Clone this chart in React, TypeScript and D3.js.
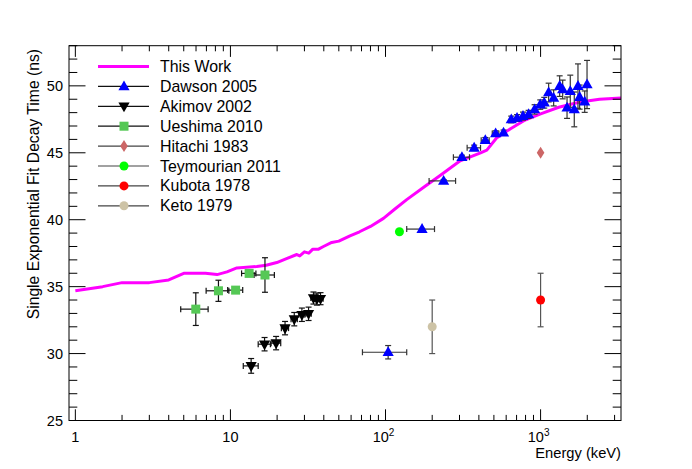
import React from 'react';
import * as d3 from 'd3';

// "This Work" curve: energy (keV), decay time (ns)
const thisWorkE = [1.0, 1.5, 2.0, 3.0, 4.0, 5.0, 6.9, 8.2, 9.5, 11.0, 14.8, 17, 19.9, 23, 26.8, 28, 30, 32, 34, 37, 39.8, 45, 50, 59, 68, 80, 97, 115, 137, 180, 225, 303, 410, 450, 520, 640, 780, 1000, 1310, 1800, 2400, 3300];
const thisWorkT = [34.7, 35.0, 35.3, 35.3, 35.5, 36.0, 36.0, 35.9, 36.1, 36.4, 36.5, 36.6, 36.8, 37.1, 37.4, 37.3, 37.6, 37.5, 37.8, 37.8, 38.0, 38.3, 38.4, 38.8, 39.1, 39.5, 40.1, 40.8, 41.5, 42.5, 43.3, 44.4, 45.0, 45.2, 46.1, 46.8, 47.4, 47.9, 48.4, 48.8, 49.0, 49.1];

// Dawson 2005
const dawsonE = [104, 172, 237, 311, 373, 440, 513, 577, 647, 705, 770, 837, 915, 995, 1056, 1127, 1214, 1327, 1388, 1481, 1554, 1649, 1742, 1785, 1925, 1993];
const dawsonT = [30.1, 39.3, 42.9, 44.67, 45.37, 45.94, 46.44, 46.5, 47.49, 47.6, 47.74, 47.87, 48.24, 48.6, 48.74, 49.5, 49.1, 49.98, 49.73, 48.37, 49.6, 48.24, 49.98, 49.16, 48.82, 50.1];
const dawsonDT = [0.5, 0.05, 0.1, 0.15, 0.2, 0.2, 0.2, 0.2, 0.25, 0.25, 0.3, 0.3, 0.35, 0.35, 0.4, 0.7, 0.6, 0.77, 0.7, 0.8, 1.2, 1.3, 1.66, 0.9, 0.8, 1.8];
const dawsonDE = [33, 35, 46, 37, 37, 26, 25, 0, 0, 0, 0, 0, 0, 0, 0, 0, 0, 0, 0, 0, 0, 0, 0, 0, 0, 0];

// Akimov 2002
const akimovE = [13.6, 16.6, 19.7, 22.5, 25.8, 28.9, 31.9, 34.3, 36.1, 38.1];
const akimovT = [29.08, 30.7, 30.78, 31.9, 32.57, 32.9, 32.97, 34.15, 34.07, 34.1];
const akimovDT = [0.55, 0.5, 0.5, 0.5, 0.5, 0.5, 0.5, 0.45, 0.45, 0.45];
const akimovDE = [1.5, 1.5, 1.4, 1.2, 1.2, 1.3, 1.3, 1.3, 1.4, 1.5];

// Ueshima 2010
const ueshimaE = [5.98, 8.37, 10.8, 13.2, 16.7];
const ueshimaT = [33.32, 34.69, 34.74, 35.99, 35.87];
const ueshimaDT = [1.22, 0.79, 0.15, 0.15, 1.29];
const ueshimaDE = [1.2, 1.4, 1.2, 1.4, 2.5];

// single points
const hitachi = { e: 1000, t: 45.0 };
const teymourian = { e: 123, t: 39.1 };
const kubota = { e: 1000, t: 34.0, dt: 2.0 };
const keto = { e: 200, t: 32.0, dt: 2.0 };

const legendLabels = ['This Work', 'Dawson 2005', 'Akimov 2002', 'Ueshima 2010', 'Hitachi 1983', 'Teymourian 2011', 'Kubota 1978', 'Keto 1979'];
const yMajor = [25, 30, 35, 40, 45, 50];
const xMajor = [1, 10, 100, 1000];

const W = 692;
const H = 469;
const FONT = '"Liberation Sans", Arial, sans-serif';

const x = d3.scaleLog().domain([0.91, 3300]).range([69, 621]);
const y = d3.scaleLinear().domain([25, 53]).range([420.5, 45.7]);

const triUp = 'M0,-6L5.6,3.8L-5.6,3.8Z';
const triDown = 'M0,6L5.6,-3.8L-5.6,-3.8Z';
const diamond = 'M0,-6L3.8,0L0,6L-3.8,0Z';
const R = 4.5;

function ErrBar({ cx, cy, x0, x1, y0, y1, color }: any) {
  const c = 3;
  return (
    <g stroke={color} strokeWidth={1.2}>
      {x1 - x0 > 0.5 && (
        <>
          <line x1={x0} x2={x1} y1={cy} y2={cy} />
          <line x1={x0} x2={x0} y1={cy - c} y2={cy + c} />
          <line x1={x1} x2={x1} y1={cy - c} y2={cy + c} />
        </>
      )}
      {y0 - y1 > 0.5 && (
        <>
          <line x1={cx} x2={cx} y1={y0} y2={y1} />
          <line x1={cx - c} x2={cx + c} y1={y0} y2={y0} />
          <line x1={cx - c} x2={cx + c} y1={y1} y2={y1} />
        </>
      )}
    </g>
  );
}

function series(E: number[], T: number[], DT: number[], DE: number[], errColor: string, marker: (k: number, cx: number, cy: number) => any) {
  return (
    <g>
      {E.map((e, i) => (
        <ErrBar key={'e' + i} cx={x(e)} cy={y(T[i])}
          x0={x(Math.max(e - DE[i], 0.001))} x1={x(e + DE[i])}
          y0={y(T[i] - DT[i])} y1={y(T[i] + DT[i])} color={errColor} />
      ))}
      {E.map((e, i) => marker(i, x(e), y(T[i])))}
    </g>
  );
}

export default function App() {
  const line = d3.line<number>().x((_, i) => x(thisWorkE[i])).y((t) => y(t));

  const xMinor: number[] = [];
  [1, 10, 100, 1000].forEach((d) => {
    for (let k = 2; k <= 9; k++) if (d * k <= 3300) xMinor.push(d * k);
  });
  const yMinor = d3.range(25, 54, 1).filter((v) => v % 5 !== 0);

  const legendY = (i: number) => 66.5 + i * 19.9;
  const lgMarkers = [
    null,
    <path d={triUp} fill="#0000ff" />,
    <path d={triDown} fill="#000" />,
    <rect x={-4.5} y={-4.5} width={9} height={9} fill="#55c855" />,
    <path d={diamond} fill="#cc6666" />,
    <circle r={R} fill="#00ff00" />,
    <circle r={R} fill="#ff0000" />,
    <circle r={R} fill="#cdc3a6" />,
  ];

  return (
    <svg width={W} height={H} style={{ position: 'absolute', left: 0, top: 0, background: '#fff' }} fontFamily={FONT}>
      <rect width={W} height={H} fill="#fff" />

      {/* this work */}
      <path d={line(thisWorkT) || ''} fill="none" stroke="#ff00ff" strokeWidth={3} strokeLinejoin="round" />

      {series(dawsonE, dawsonT, dawsonDT, dawsonDE, '#333', (k, cx, cy) => (
        <path key={'d' + k} d={triUp} transform={`translate(${cx},${cy})`} fill="#0000ff" />
      ))}
      {series(akimovE, akimovT, akimovDT, akimovDE, '#111', (k, cx, cy) => (
        <path key={'a' + k} d={triDown} transform={`translate(${cx},${cy})`} fill="#000" />
      ))}
      {series(ueshimaE, ueshimaT, ueshimaDT, ueshimaDE, '#111', (k, cx, cy) => (
        <rect key={'u' + k} x={cx - 4.5} y={cy - 4.5} width={9} height={9} fill="#55c855" />
      ))}

      <path d={diamond} transform={`translate(${x(hitachi.e)},${y(hitachi.t)})`} fill="#cc6666" />
      <circle cx={x(teymourian.e)} cy={y(teymourian.t)} r={R} fill="#00ff00" />
      <ErrBar cx={x(kubota.e)} cy={y(kubota.t)} x0={0} x1={0} y0={y(kubota.t - kubota.dt)} y1={y(kubota.t + kubota.dt)} color="#555" />
      <circle cx={x(kubota.e)} cy={y(kubota.t)} r={R} fill="#ff0000" />
      <ErrBar cx={x(keto.e)} cy={y(keto.t)} x0={0} x1={0} y0={y(keto.t - keto.dt)} y1={y(keto.t + keto.dt)} color="#555" />
      <circle cx={x(keto.e)} cy={y(keto.t)} r={R} fill="#cdc3a6" />

      {/* frame */}
      <rect x={69} y={45.7} width={552} height={374.8} fill="none" stroke="#000" strokeWidth={1} />

      {/* ticks */}
      <g stroke="#000" strokeWidth={1}>
        {xMajor.map((v) => (
          <g key={'xm' + v}>
            <line x1={x(v)} x2={x(v)} y1={420.5} y2={420.5 - 11.2} />
            <line x1={x(v)} x2={x(v)} y1={45.7} y2={45.7 + 11.2} />
          </g>
        ))}
        {xMinor.map((v) => (
          <g key={'xn' + v}>
            <line x1={x(v)} x2={x(v)} y1={420.5} y2={420.5 - 5.6} />
            <line x1={x(v)} x2={x(v)} y1={45.7} y2={45.7 + 5.6} />
          </g>
        ))}
        {yMajor.map((v) => (
          <g key={'ym' + v}>
            <line x1={69} x2={69 + 16.5} y1={y(v)} y2={y(v)} />
            <line x1={621} x2={621 - 16.5} y1={y(v)} y2={y(v)} />
          </g>
        ))}
        {yMinor.map((v) => (
          <g key={'yn' + v}>
            <line x1={69} x2={69 + 8.3} y1={y(v)} y2={y(v)} />
            <line x1={621} x2={621 - 8.3} y1={y(v)} y2={y(v)} />
          </g>
        ))}
      </g>

      {/* tick labels */}
      <g fontSize={14.5} fill="#000">
        {yMajor.map((v) => (
          <text key={'yl' + v} x={63} y={y(v) + 5} textAnchor="end">{v}</text>
        ))}
        {xMajor.map((v) => (
          <text key={'xl' + v} x={x(v) + (v >= 100 ? -2 : 0)} y={442} textAnchor="middle">
            {v < 100 ? v : (
              <>
                10<tspan fontSize={10} dy={-6}>{Math.log10(v)}</tspan>
              </>
            )}
          </text>
        ))}
      </g>

      <text x={621} y={458} textAnchor="end" fontSize={14.7}>Energy (keV)</text>
      <text transform="translate(39,49) rotate(-90)" textAnchor="end" fontSize={15.7}>Single Exponential Fit Decay Time (ns)</text>

      {/* legend */}
      {legendLabels.map((lab, i) => (
        <g key={lab} transform={`translate(0,${legendY(i)})`}>
          <line x1={98} x2={149} y1={0} y2={0} stroke={i === 0 ? '#ff00ff' : i < 4 ? '#111' : '#444'} strokeWidth={i === 0 ? 3 : 1.2} />
          {lgMarkers[i] && <g transform="translate(124,0)">{lgMarkers[i]}</g>}
          <text x={160} y={5.5} fontSize={15.9}>{lab}</text>
        </g>
      ))}
    </svg>
  );
}
